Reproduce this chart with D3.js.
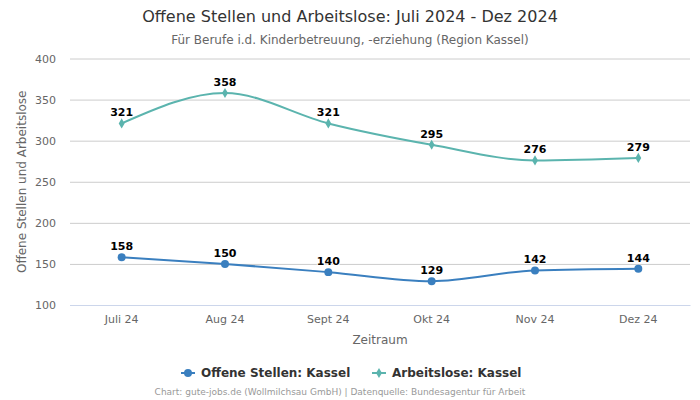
<!DOCTYPE html>
<html><head><meta charset="utf-8">
<script src="https://cdn.jsdelivr.net/npm/d3@7"></script>
<style>body{margin:0;background:#fff;font-family:"DejaVu Sans",sans-serif;}</style>
</head><body><svg id="c" width="700" height="400"></svg>
<script>
const categories = ["Juli 24","Aug 24","Sept 24","Okt 24","Nov 24","Dez 24"];
const offeneStellen = [158,150,140,129,142,144];
const arbeitslose = [321,358,321,295,276,279];
const yTicks = [100,150,200,250,300,350,400];
const seriesNames = ["Offene Stellen: Kassel","Arbeitslose: Kassel"];
const colors = ["#3a7fbf","#5bb4ae"];

const svg = d3.select("#c");
const L=70, R=690, T=58.5, B=305;
const x = d3.scaleBand().domain(categories).range([L,R]);
const y = d3.scaleLinear().domain([100,400]).range([B,T]);
const cx = d => x(d)+x.bandwidth()/2;

svg.append("text").attr("x",350).attr("y",22).attr("text-anchor","middle")
  .attr("font-size",16).attr("fill","#333").text("Offene Stellen und Arbeitslose: Juli 2024 - Dez 2024");
svg.append("text").attr("x",350).attr("y",44).attr("text-anchor","middle")
  .attr("font-size",12).attr("fill","#666").text("Für Berufe i.d. Kinderbetreuung, -erziehung (Region Kassel)");

// grid
const yAxis = d3.axisLeft(y).tickValues(yTicks).tickSize(-(R-L)).tickPadding(14);
const gy = svg.append("g").attr("transform",`translate(${L},0)`).call(yAxis);
gy.select(".domain").remove();
gy.selectAll(".tick line").attr("stroke","#ccc");
gy.selectAll(".tick text").attr("font-size",11).attr("fill","#666").attr("font-family","DejaVu Sans");
gy.selectAll(".tick").filter(d=>d===100).select("line").attr("stroke","#ccd6eb");

const xAxis = d3.axisBottom(x).tickSize(0).tickPadding(10);
const gx = svg.append("g").attr("transform",`translate(0,${B})`).call(xAxis);
gx.select(".domain").attr("stroke","#ccd6eb");
gx.selectAll(".tick text").attr("font-size",11).attr("fill","#666").attr("font-family","DejaVu Sans");

svg.append("text").attr("x",380).attr("y",344).attr("text-anchor","middle")
  .attr("font-size",12).attr("fill","#666").text("Zeitraum");
svg.append("text").attr("transform",`translate(26,${(T+B)/2}) rotate(-90)`).attr("text-anchor","middle")
  .attr("font-size",12).attr("fill","#666").text("Offene Stellen und Arbeitslose");

const line = d3.line().x((d,i)=>cx(categories[i])).y(d=>y(d)).curve(d3.curveMonotoneX);
const data = [offeneStellen, arbeitslose];
data.forEach((vals,si)=>{
  svg.append("path").attr("d",line(vals)).attr("fill","none").attr("stroke",colors[si]).attr("stroke-width",2);
  const sym = si===0 ? d3.symbolCircle : d3.symbolDiamond;
  const sz = si===0 ? 50 : 30;
  svg.selectAll(null).data(vals).enter().append("path")
    .attr("d",d3.symbol().type(sym).size(sz))
    .attr("transform",(d,i)=>`translate(${cx(categories[i])},${y(d)})`)
    .attr("fill",colors[si]);
  svg.selectAll(null).data(vals).enter().append("text")
    .attr("x",(d,i)=>cx(categories[i])).attr("y",d=>y(d)-7)
    .attr("text-anchor","middle").attr("font-size",11).attr("font-weight","bold")
    .attr("fill","#000").attr("stroke","#fff").attr("stroke-width",2).attr("paint-order","stroke")
    .text(d=>d);
});

// legend
const lg = svg.append("g");
const items = [{x:181},{x:372}];
items.forEach((it,i)=>{
  lg.append("line").attr("x1",it.x).attr("x2",it.x+14).attr("y1",373).attr("y2",373).attr("stroke",colors[i]).attr("stroke-width",2);
  lg.append("path").attr("d",d3.symbol().type(i===0?d3.symbolCircle:d3.symbolDiamond).size(i===0?50:30)())
    .attr("transform",`translate(${it.x+7},373)`).attr("fill",colors[i]);
  lg.append("text").attr("x",it.x+20).attr("y",377).attr("font-size",12).attr("font-weight","bold").attr("fill","#333").text(seriesNames[i]);
});

svg.append("text").attr("x",340).attr("y",395).attr("text-anchor","middle")
  .attr("font-size",9).attr("fill","#999").text("Chart: gute-jobs.de (Wollmilchsau GmbH) | Datenquelle: Bundesagentur für Arbeit");
</script></body></html>
